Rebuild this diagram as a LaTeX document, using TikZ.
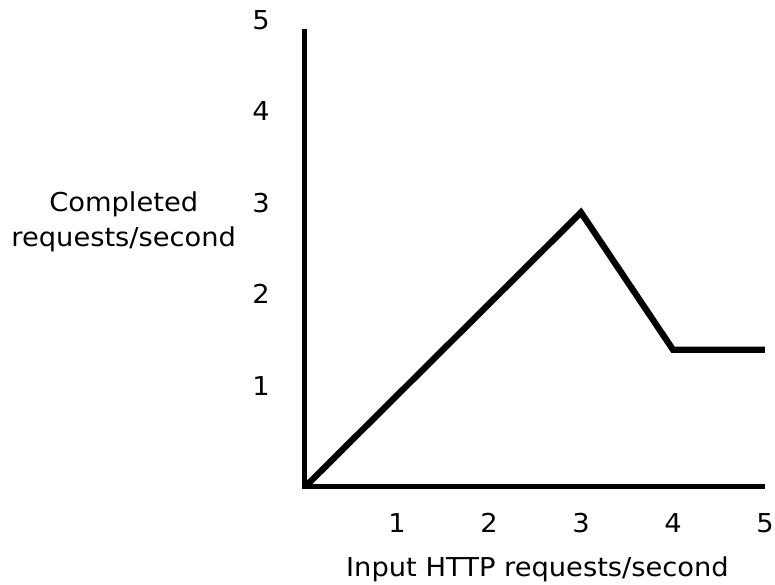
\documentclass[tikz,border=0pt]{standalone}
\usepackage{fontspec}
\setmainfont{DejaVu Sans}[FakeStretch=1.05]
\usepackage{tikz}
\tikzset{
  ax/.style  ={draw=black, line width=2.85pt, line cap=butt, line join=miter},
  crv/.style ={draw=black, line width=3.6pt, line cap=butt, line join=miter},
  lab/.style ={font=\fontsize{14.8pt}{18pt}\selectfont, inner sep=0pt, anchor=base},
}

\begin{document}
\begin{tikzpicture}[x=1.84cm,y=1.83cm]
  \useasboundingbox (-3.315,-1.071) rectangle (5.109,5.322);
  % axes
  \draw[ax] (0,5) -- (0,0) -- (5,0);
  % y tick labels
  \node[lab] (y1) at (-0.478,1) {1};
  \node[lab] (y2) at (-0.478,2) {2};
  \node[lab] (y3) at (-0.478,3) {3};
  \node[lab] (y4) at (-0.478,4) {4};
  \node[lab] (y5) at (-0.478,5) {5};
  % x tick labels
  \node[lab] (x1) at (1,-0.5) {1};
  \node[lab] (x2) at (2,-0.5) {2};
  \node[lab] (x3) at (3,-0.5) {3};
  \node[lab] (x4) at (4,-0.5) {4};
  \node[lab] (x5) at (5,-0.5) {5};
  % axis titles
  \node[lab] (ytitA) at (-1.97,3.01) {Completed};
  \node[lab] (ytitB) at (-1.97,2.63) {requests/second};
  \node[lab] (xtit) at (2.527,-0.98) {Input HTTP requests/second};
  % completed vs. input
  \draw[crv] (0,0) -- (3,3) -- (4,1.5) -- (5,1.5);
\end{tikzpicture}
\end{document}
